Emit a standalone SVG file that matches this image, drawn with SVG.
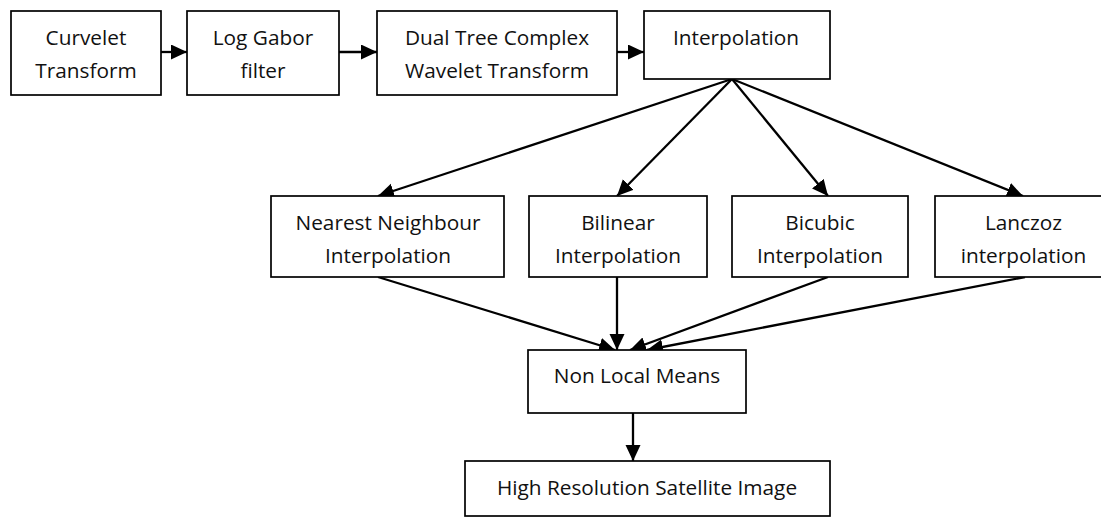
<svg xmlns="http://www.w3.org/2000/svg" width="1101" height="517" viewBox="0 0 1101 517">
<defs>
<style>
.box{fill:#fff;stroke:#000;stroke-width:1.7}
.t{font-family:"Open Sans","Noto Sans",sans-serif;font-size:20.8px;fill:#111;text-anchor:middle}
.c{stroke:#000;stroke-width:2.3;fill:none;marker-end:url(#ah)}
</style>
<marker id="ah" markerUnits="userSpaceOnUse" markerWidth="17" markerHeight="16" refX="16" refY="7.5" orient="auto">
<path d="M0,0 L16,7.5 L0,15 z" fill="#000"/>
</marker>
</defs>
<rect width="1101" height="517" fill="#fff"/>
<g id="connectors">
<line class="c" x1="161" y1="52" x2="187" y2="52"/>
<line class="c" x1="339" y1="52" x2="377" y2="52"/>
<line class="c" x1="617" y1="52" x2="644" y2="52"/>
<line class="c" x1="732" y1="79" x2="378" y2="196"/>
<line class="c" x1="732" y1="79" x2="617" y2="196"/>
<line class="c" x1="732" y1="79" x2="828" y2="196"/>
<line class="c" x1="732" y1="79" x2="1023" y2="196"/>
<line class="c" x1="378" y1="277" x2="615" y2="350"/>
<line class="c" x1="617" y1="277" x2="617" y2="350"/>
<line class="c" x1="828" y1="277" x2="630" y2="350"/>
<line class="c" x1="1025" y1="277" x2="647" y2="350"/>
<line class="c" x1="633" y1="413" x2="633" y2="461"/>
</g>
<g id="curvelet">
<rect class="box" x="11" y="11" width="150" height="84"/>
<text class="t" x="86" y="45">Curvelet</text>
<text class="t" x="86" y="78">Transform</text>
</g>
<g id="loggabor">
<rect class="box" x="187" y="11" width="152" height="84"/>
<text class="t" x="263" y="45">Log Gabor</text>
<text class="t" x="263" y="78">filter</text>
</g>
<g id="dtcwt">
<rect class="box" x="377" y="11" width="240" height="84"/>
<text class="t" x="497" y="45">Dual Tree Complex</text>
<text class="t" x="497" y="78">Wavelet Transform</text>
</g>
<g id="interpolation">
<rect class="box" x="644" y="11" width="186" height="68"/>
<text class="t" x="736" y="45">Interpolation</text>
</g>
<g id="nearest">
<rect class="box" x="271" y="196" width="233" height="81"/>
<text class="t" x="388" y="230">Nearest Neighbour</text>
<text class="t" x="388" y="263">Interpolation</text>
</g>
<g id="bilinear">
<rect class="box" x="529" y="196" width="178" height="81"/>
<text class="t" x="618" y="230">Bilinear</text>
<text class="t" x="618" y="263">Interpolation</text>
</g>
<g id="bicubic">
<rect class="box" x="732" y="196" width="176" height="81"/>
<text class="t" x="820" y="230">Bicubic</text>
<text class="t" x="820" y="263">Interpolation</text>
</g>
<g id="lanczoz">
<rect class="box" x="935" y="196" width="177" height="81"/>
<text class="t" x="1023.5" y="230">Lanczoz</text>
<text class="t" x="1023.5" y="263">interpolation</text>
</g>
<g id="nlm">
<rect class="box" x="528" y="350" width="218" height="63"/>
<text class="t" x="637" y="383">Non Local Means</text>
</g>
<g id="hrsi">
<rect class="box" x="465" y="461" width="365" height="55"/>
<text class="t" x="647" y="495">High Resolution Satellite Image</text>
</g>
</svg>
